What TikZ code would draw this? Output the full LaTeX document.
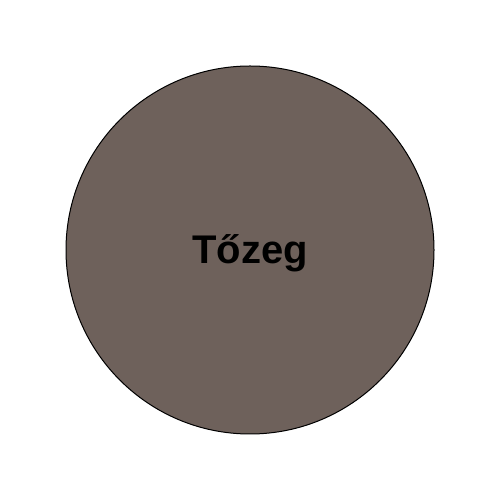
\documentclass[tikz,border=0pt]{standalone}
\usepackage{fontspec}
\setmainfont{Liberation Sans}
\definecolor{peat}{RGB}{110,97,91}
\begin{document}
\begin{tikzpicture}[x=1pt, y=1pt]
    \useasboundingbox (0,0) rectangle (500,500);
    \node[circle, draw=black, line width=1pt, fill=peat, minimum size=368pt, inner sep=0pt] (peat) at (250,250) {};
    \node[anchor=base, font=\bfseries\fontsize{40}{40}\selectfont, inner sep=0pt] (label) at (250,236) {Tőzeg};
\end{tikzpicture}
\end{document}
